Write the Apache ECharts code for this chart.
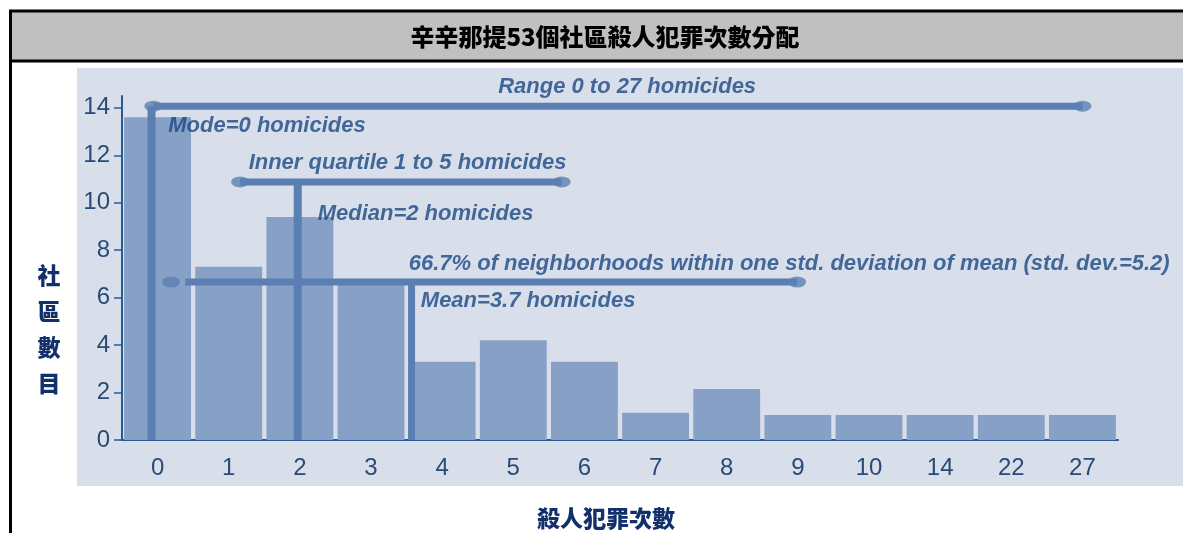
<!DOCTYPE html>
<html>
<head>
<meta charset="utf-8">
<script src="https://cdn.jsdelivr.net/npm/echarts@6/dist/echarts.min.js"></script>
<style>
  html, body { margin: 0; padding: 0; background: #fff; }
  #chart { width: 1183px; height: 533px; }
</style>
</head>
<body>
<div id="chart"></div>
<script>
// 殺人犯罪次數 (x categories) 與社區數目 (bar heights)
const categories = ['0', '1', '2', '3', '4', '5', '6', '7', '8', '9', '10', '14', '22', '27'];
const counts = [13.6, 7.3, 9.4, 6.6, 3.3, 4.2, 3.3, 1.15, 2.15, 1.05, 1.05, 1.05, 1.05, 1.05];
const yTicks = [0, 2, 4, 6, 8, 10, 12, 14];

// annotation lines, in (category index, count) space
const rangeLine = [[-0.06, 14.07], [13.0, 14.07]];
const modeLine = [[-0.085, 14.07], [-0.085, 0]];
const quartileLine = [[1.16, 10.88], [5.68, 10.88]];
const medianLine = [[1.97, 10.88], [1.97, 0]];
const sdLine = [[0.39, 6.66], [8.99, 6.66]];
const meanLine = [[3.57, 6.66], [3.57, 0]];
const dots = [[-0.06, 14.07], [13.0, 14.07], [1.16, 10.88], [5.68, 10.88], [0.19, 6.66], [8.99, 6.66]];

// annotation texts: [x, y, text]
const notes = [
  [0.15, 13.24, 'Mode=0 homicides'],
  [1.28, 11.68, 'Inner quartile 1 to 5 homicides'],
  [2.25, 9.53, 'Median=2 homicides'],
  [3.53, 7.42, '66.7% of neighborhoods within one std. deviation of mean (std. dev.=5.2)'],
  [3.70, 5.86, 'Mean=3.7 homicides']
];
const rangeNote = [[6.6, 14.9, 'Range 0 to 27 homicides']];

const chart = echarts.init(document.getElementById('chart'));

const lineColor = '#5b7fb2';
const noteColor = '#1c4884';
const axisColor = '#2a5a92';
const labelColor = '#294a77';

function annLine(data, w) {
  return {
    type: 'line', xAxisIndex: 1, data: data, symbol: 'none', silent: true,
    lineStyle: { color: lineColor, width: w, cap: 'butt' }, z: 3, clip: false
  };
}

const noteFont = { color: noteColor, fontSize: 22, fontWeight: 'bold', fontStyle: 'italic', fontFamily: '"Liberation Sans"' };

chart.setOption({
  animation: false,
  graphic: [
    { type: 'rect', shape: { x: 77, y: 68, width: 1120, height: 418 }, style: { fill: '#d8dfeb' }, z: -10 },
    { type: 'rect', shape: { x: 10.5, y: 11, width: 1190, height: 50 }, style: { fill: '#c0c0c0', stroke: '#000', lineWidth: 3 }, z: -5 },
    { type: 'line', shape: { x1: 10.5, y1: 11, x2: 10.5, y2: 540 }, style: { stroke: '#000', lineWidth: 3 }, z: -5 },
    { type: 'text', x: 605, y: 37, style: { text: '辛辛那提53個社區殺人犯罪次數分配', font: '900 24px "Noto Sans CJK TC"', fill: '#000', align: 'center', verticalAlign: 'middle' } },
    { type: 'text', x: 49, y: 257, style: { text: '社\n區\n數\n目', font: '900 23px "Noto Sans CJK TC"', fill: '#12306a', align: 'center', verticalAlign: 'top', lineHeight: 36 } },
    { type: 'text', x: 606, y: 518, style: { text: '殺人犯罪次數', font: '900 23px "Noto Sans CJK TC"', fill: '#12306a', align: 'center', verticalAlign: 'middle' } }
  ],
  grid: { left: 122, right: 65, top: 96, bottom: 93, containLabel: false },
  xAxis: [
    {
      type: 'category', data: categories,
      axisLine: { lineStyle: { color: axisColor, width: 2 } },
      axisTick: { show: false },
      axisLabel: { color: labelColor, fontSize: 24, fontFamily: '"Liberation Sans"', margin: 16 }
    },
    { type: 'value', min: -0.5, max: 13.5, show: false }
  ],
  yAxis: {
    type: 'value', min: 0, max: 14.5,
    splitLine: { show: false },
    axisLine: { show: true, onZero: false, lineStyle: { color: axisColor, width: 2 } },
    axisTick: { show: true, length: 8, lineStyle: { color: axisColor, width: 1.5 }, customValues: yTicks },
    axisLabel: { color: labelColor, fontSize: 24, fontFamily: '"Liberation Sans"', margin: 12, customValues: yTicks }
  },
  series: [
    {
      type: 'bar', data: counts, barWidth: '94%',
      itemStyle: { color: '#87a0c6' }, silent: true, z: 2
    },
    annLine(rangeLine, 7),
    annLine(modeLine, 8),
    annLine(quartileLine, 7),
    annLine(medianLine, 8),
    annLine(sdLine, 7),
    annLine(meanLine, 7),
    {
      type: 'scatter', xAxisIndex: 1, data: dots, symbol: 'circle', symbolSize: [18, 11],
      itemStyle: { color: lineColor }, silent: true, z: 4, clip: false
    },
    {
      type: 'scatter', xAxisIndex: 1, data: notes, symbolSize: 0, silent: true, z: 5, clip: false,
      label: Object.assign({ show: true, position: 'right', distance: 0, formatter: p => p.data[2] }, noteFont)
    },
    {
      type: 'scatter', xAxisIndex: 1, data: rangeNote, symbolSize: 0, silent: true, z: 5, clip: false,
      label: Object.assign({ show: true, position: 'inside', formatter: p => p.data[2] }, noteFont)
    }
  ]
});
</script>
</body>
</html>
